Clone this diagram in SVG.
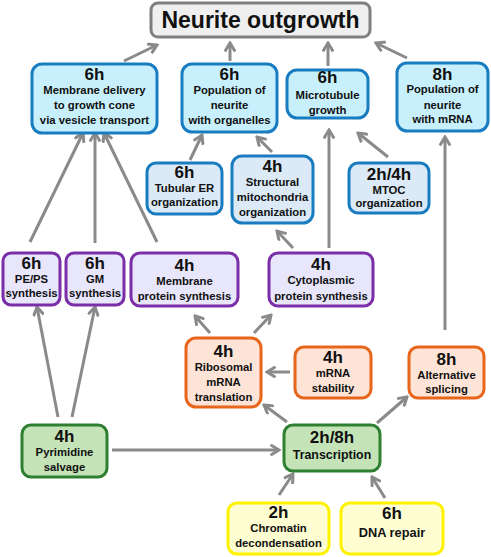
<svg xmlns="http://www.w3.org/2000/svg" width="491" height="557" viewBox="0 0 491 557">
<style>
  text { font-family: "Liberation Sans", Arial, sans-serif; font-weight: bold; text-anchor: middle; fill: #111; }
  .t { font-size: 11.3px; }
  .h { font-size: 17px; }
  .box { stroke-width: 3; }
  .title { fill: #efefef; stroke: #7f7f7f; }
  .blue1 { fill: #c8f0fc; stroke: #1a7cc0; }
  .blue2 { fill: #dbeaf6; stroke: #1a7cc0; }
  .purple { fill: #e8e6fb; stroke: #7a2fa8; }
  .orange { fill: #fde4d6; stroke: #e8651c; }
  .green { fill: #c4e4b8; stroke: #2e8030; }
  .yellow { fill: #fffed2; stroke: #fff200; }
  .conn line { stroke: #8a8a8a; stroke-width: 3; fill: none; marker-end: url(#arr); }
</style>
<defs>
  <marker id="arr" viewBox="0 0 12 12" refX="10" refY="6" markerWidth="12" markerHeight="12" markerUnits="userSpaceOnUse" orient="auto">
    <path d="M1.5,0.8 L10,6 L1.5,11.2" fill="none" stroke="#8a8a8a" stroke-width="3"/>
  </marker>
</defs>
<rect width="491" height="557" fill="#ffffff"/>

<g id="connectors" class="conn">
  <line x1="124" y1="61" x2="157" y2="45"/>
  <line x1="230" y1="61" x2="230" y2="43"/>
  <line x1="328" y1="66" x2="328" y2="43"/>
  <line x1="407" y1="58" x2="376" y2="43"/>
  <line x1="190" y1="160" x2="202" y2="135"/>
  <line x1="272" y1="152" x2="257" y2="137"/>
  <line x1="388" y1="157" x2="358" y2="133"/>
  <line x1="329" y1="248" x2="329" y2="130"/>
  <line x1="445" y1="330" x2="445" y2="137"/>
  <line x1="293" y1="248" x2="277" y2="231"/>
  <line x1="157" y1="242" x2="104" y2="133"/>
  <line x1="95" y1="243" x2="95" y2="133"/>
  <line x1="30" y1="242" x2="83" y2="133"/>
  <line x1="58" y1="417" x2="37" y2="307"/>
  <line x1="72" y1="417" x2="95" y2="307"/>
  <line x1="112" y1="450" x2="279" y2="450"/>
  <line x1="210" y1="333" x2="195" y2="316"/>
  <line x1="254" y1="333" x2="271" y2="315"/>
  <line x1="290" y1="372" x2="267" y2="372"/>
  <line x1="287" y1="422" x2="264" y2="405"/>
  <line x1="377" y1="423" x2="407" y2="397"/>
  <line x1="279" y1="495" x2="293" y2="474"/>
  <line x1="385" y1="498" x2="372" y2="477"/>
</g>

<g id="title">
  <rect class="box title" x="151" y="3" width="219" height="34" rx="7"/>
  <text x="260.5" y="28" style="font-size:23px">Neurite outgrowth</text>
</g>

<g id="membrane-delivery">
  <rect class="box blue1" x="32" y="64" width="125" height="69" rx="10"/>
  <text class="h" x="94.5" y="80">6h</text>
  <text class="t" x="94.5" y="94">Membrane delivery</text>
  <text class="t" x="94.5" y="109">to growth cone</text>
  <text class="t" x="94.5" y="124">via vesicle transport</text>
</g>

<g id="population-organelles">
  <rect class="box blue1" x="182" y="64" width="95" height="68" rx="10"/>
  <text class="h" x="229.5" y="80">6h</text>
  <text class="t" x="229.5" y="94">Population of</text>
  <text class="t" x="229.5" y="109">neurite</text>
  <text class="t" x="229.5" y="124">with organelles</text>
</g>

<g id="microtubule-growth">
  <rect class="box blue1" x="287" y="70" width="81" height="48" rx="10"/>
  <text class="h" x="327.5" y="83">6h</text>
  <text class="t" x="327.5" y="99">Microtubule</text>
  <text class="t" x="327.5" y="114">growth</text>
</g>

<g id="population-mrna">
  <rect class="box blue1" x="397" y="63" width="91" height="68" rx="10"/>
  <text class="h" x="442.5" y="80">8h</text>
  <text class="t" x="442.5" y="93">Population of</text>
  <text class="t" x="442.5" y="109">neurite</text>
  <text class="t" x="442.5" y="123">with mRNA</text>
</g>

<g id="tubular-er">
  <rect class="box blue2" x="147" y="163" width="75" height="51" rx="9"/>
  <text class="h" x="184.5" y="178">6h</text>
  <text class="t" x="184.5" y="192">Tubular ER</text>
  <text class="t" x="184.5" y="206">organization</text>
</g>

<g id="structural-mito">
  <rect class="box blue2" x="232" y="156" width="81" height="67" rx="10"/>
  <text class="h" x="272.5" y="172">4h</text>
  <text class="t" x="272.5" y="186">Structural</text>
  <text class="t" x="272.5" y="201">mitochondria</text>
  <text class="t" x="272.5" y="216">organization</text>
</g>

<g id="mtoc">
  <rect class="box blue2" x="349" y="163" width="80" height="50" rx="9"/>
  <text class="h" x="389" y="180">2h/4h</text>
  <text class="t" x="389" y="194">MTOC</text>
  <text class="t" x="389" y="207">organization</text>
</g>

<g id="pe-ps">
  <rect class="box purple" x="3" y="253" width="57" height="52" rx="8"/>
  <text class="h" x="31.5" y="269">6h</text>
  <text class="t" x="31.5" y="283">PE/PS</text>
  <text class="t" x="31.5" y="297">synthesis</text>
</g>

<g id="gm">
  <rect class="box purple" x="66" y="253" width="58" height="52" rx="8"/>
  <text class="h" x="95" y="269">6h</text>
  <text class="t" x="95" y="283">GM</text>
  <text class="t" x="95" y="297">synthesis</text>
</g>

<g id="membrane-protein">
  <rect class="box purple" x="131" y="253" width="107" height="53" rx="9"/>
  <text class="h" x="184.5" y="271">4h</text>
  <text class="t" x="184.5" y="285">Membrane</text>
  <text class="t" x="184.5" y="300">protein synthesis</text>
</g>

<g id="cytoplasmic-protein">
  <rect class="box purple" x="269" y="253" width="104" height="53" rx="9"/>
  <text class="h" x="321" y="270">4h</text>
  <text class="t" x="321" y="284">Cytoplasmic</text>
  <text class="t" x="321" y="300">protein synthesis</text>
</g>

<g id="ribosomal">
  <rect class="box orange" x="186" y="338" width="75" height="69" rx="10"/>
  <text class="h" x="223.5" y="357">4h</text>
  <text class="t" x="223.5" y="371">Ribosomal</text>
  <text class="t" x="223.5" y="386">mRNA</text>
  <text class="t" x="223.5" y="401">translation</text>
</g>

<g id="mrna-stability">
  <rect class="box orange" x="295" y="347" width="76" height="51" rx="9"/>
  <text class="h" x="333" y="363">4h</text>
  <text class="t" x="333" y="377">mRNA</text>
  <text class="t" x="333" y="392">stability</text>
</g>

<g id="alt-splicing">
  <rect class="box orange" x="409" y="347" width="75" height="51" rx="9"/>
  <text class="h" x="446.5" y="365">8h</text>
  <text class="t" x="446.5" y="379">Alternative</text>
  <text class="t" x="446.5" y="393">splicing</text>
</g>

<g id="pyrimidine">
  <rect class="box green" x="22" y="425" width="85" height="52" rx="9"/>
  <text class="h" x="64.5" y="442">4h</text>
  <text class="t" x="64.5" y="456">Pyrimidine</text>
  <text class="t" x="64.5" y="471">salvage</text>
</g>

<g id="transcription">
  <rect class="box green" x="284" y="425" width="96" height="46" rx="9"/>
  <text class="h" x="332" y="443">2h/8h</text>
  <text x="332" y="459" style="font-size:12.4px">Transcription</text>
</g>

<g id="chromatin">
  <rect class="box yellow" x="228" y="503" width="101" height="51" rx="9"/>
  <text class="h" x="278.5" y="517.5">2h</text>
  <text class="t" x="278.5" y="532">Chromatin</text>
  <text class="t" x="278.5" y="546.5">decondensation</text>
</g>

<g id="dna-repair">
  <rect class="box yellow" x="341" y="503" width="102" height="51" rx="9"/>
  <text class="h" x="392" y="519">6h</text>
  <text x="392" y="537" style="font-size:12.8px">DNA repair</text>
</g>
</svg>
